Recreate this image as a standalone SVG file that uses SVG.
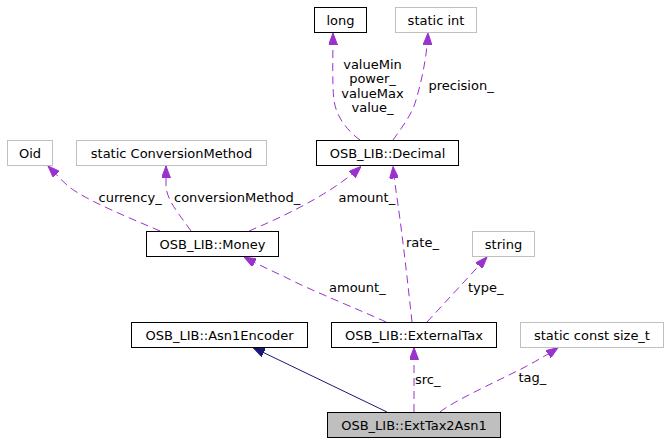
<svg xmlns="http://www.w3.org/2000/svg" width="667" height="443" viewBox="0 0 667 443">
<style>
text{font-family:"DejaVu Sans","Liberation Sans",sans-serif;font-size:13px;fill:#000}
.n text{text-anchor:middle}
.b{fill:#fff;stroke:#000;stroke-width:1}
.g{fill:#fff;stroke:#bfbfbf;stroke-width:1}
.m{fill:none;stroke:#9a32cd;stroke-width:1;stroke-dasharray:8,5;marker-end:url(#ap)}
.i{fill:none;stroke:#191970;stroke-width:1;marker-end:url(#an)}
.c{text-anchor:middle}
</style>
<defs>
<marker id="ap" viewBox="0 0 12 9" refX="12" refY="4.5" markerWidth="12" markerHeight="9" markerUnits="userSpaceOnUse" orient="auto"><path d="M0,0 L12,4.5 L0,9 z" fill="#9a32cd" stroke="#9a32cd"/></marker>
<marker id="an" viewBox="0 0 12 9" refX="12" refY="4.5" markerWidth="12" markerHeight="9" markerUnits="userSpaceOnUse" orient="auto"><path d="M0,0 L12,4.5 L0,9 z" fill="#191970" stroke="#191970"/></marker>
</defs>
<rect width="667" height="443" fill="#fff"/>
<g id="edges">
<path class="m" d="M360,140 C350,133 336,118 334,100 C332,85 333,55 333,33"/>
<path class="m" d="M393,140 C400,130 412,115 416,100 C422,80 427,55 428,33"/>
<path class="m" d="M160,231 C130,218 85,200 68,186 C60,179 54,172 48,166"/>
<path class="m" d="M191,231 C180,215 166,200 166,185 L166,166"/>
<path class="m" d="M249,231 C280,218 330,195 361,166.5"/>
<path class="m" d="M412,322 C408,285 403,240 398,205 C396,190 394,178 393,166.5"/>
<path class="m" d="M386,322 C360,310 310,290 285,277 C270,270 255,263 244,257"/>
<path class="m" d="M427,322 L487,257"/>
<path class="i" d="M387,412 L253,347.5"/>
<path class="m" d="M414,412 L414,347.5"/>
<path class="m" d="M440,412 C455,400 500,380 525,367 C540,359 550,353 558,347.5"/>
<text class="c" x="372.5" y="68.5">valueMin</text>
<text class="c" x="372.5" y="83">power_</text>
<text class="c" x="372.5" y="97.5">valueMax</text>
<text class="c" x="372.5" y="112">value_</text>
<text x="428.5" y="90">precision_</text>
<text x="98.5" y="202">currency_</text>
<text x="174" y="202">conversionMethod_</text>
<text x="338.5" y="202">amount_</text>
<text x="406" y="247">rate_</text>
<text x="329" y="292">amount_</text>
<text x="468" y="292">type_</text>
<text x="415" y="384">src_</text>
<text x="518.5" y="382">tag_</text>
</g>
<g id="long" class="n"><rect class="b" x="314.5" y="7.5" width="52" height="25"/><text x="340.5" y="24.5">long</text></g>
<g id="static_int" class="n"><rect class="g" x="395.5" y="7.5" width="81" height="25"/><text x="436" y="24.5">static int</text></g>
<g id="decimal" class="n"><rect class="b" x="316.5" y="140.5" width="142" height="25"/><text x="387.5" y="157.5">OSB_LIB::Decimal</text></g>
<g id="oid" class="n"><rect class="g" x="7.5" y="140.5" width="45" height="25"/><text x="30" y="157.5">Oid</text></g>
<g id="static_conv" class="n"><rect class="g" x="76.5" y="140.5" width="190" height="25"/><text x="171.5" y="157.5">static ConversionMethod</text></g>
<g id="money" class="n"><rect class="b" x="146.5" y="231.5" width="132" height="25"/><text x="212.5" y="248.5">OSB_LIB::Money</text></g>
<g id="string" class="n"><rect class="g" x="472.5" y="231.5" width="62" height="25"/><text x="503.5" y="248.5">string</text></g>
<g id="asn1encoder" class="n"><rect class="b" x="131.5" y="322.5" width="176" height="25"/><text x="219.5" y="339.5">OSB_LIB::Asn1Encoder</text></g>
<g id="externaltax" class="n"><rect class="b" x="331.5" y="322.5" width="165" height="25"/><text x="414" y="339.5">OSB_LIB::ExternalTax</text></g>
<g id="size_t" class="n"><rect class="g" x="520.5" y="322.5" width="143" height="25"/><text x="592" y="339.5">static const size_t</text></g>
<g id="exttax2asn1" class="n"><rect x="327.5" y="412.5" width="173" height="25" fill="#bfbfbf" stroke="#000"/><text x="414" y="429.5">OSB_LIB::ExtTax2Asn1</text></g>
</svg>
